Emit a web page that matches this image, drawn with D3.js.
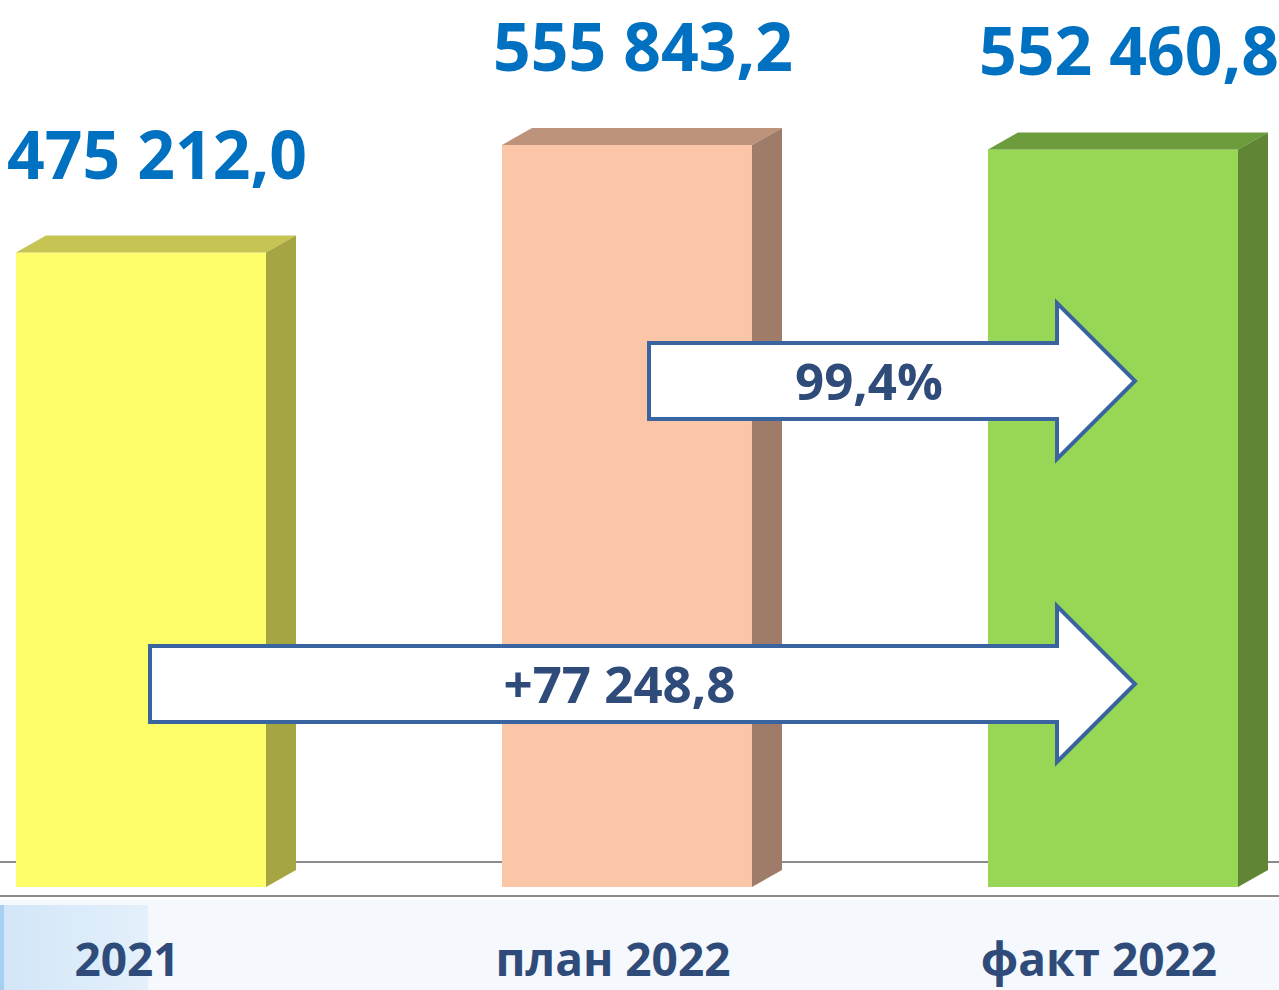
<!DOCTYPE html>
<html>
<head>
<meta charset="utf-8">
<script src="https://cdn.jsdelivr.net/npm/d3@7"></script>
<style>
  html, body { margin: 0; padding: 0; background: #ffffff; }
  svg { display: block; }
  text { font-family: "Open Sans", "Noto Sans", sans-serif; font-weight: 700; }
</style>
</head>
<body>
<div class="bar-chart-container"></div>
<script>
// Data
const categories = ['2021', 'план 2022', 'факт 2022'];
const values = [475212.0, 555843.2, 552460.8];

// front / top / side colours of each 3D bar
const front_colors = ['#FEFE6A', '#FBC5A8', '#98D656'];
const top_colors = ['#C6C452', '#BE937B', '#6D9C3C'];
const side_colors = ['#A5A541', '#9F7C69', '#5F8535'];

// russian number format: "475 212,0"
const ru = d3.formatLocale({decimal: ',', thousands: ' ', grouping: [3], currency: ['', ' ₽']});
const fmtValue = ru.format(',.1f');
const fmtPct = d => ru.format('.1f')(d) + '%';
const fmtDiff = d => '+' + ru.format(',.1f')(d);

const svg_width = 1279;
const svg_height = 990;
const depth_x = 30;   // 3D offset
const depth_y = 17;

const svg = d3.select('.bar-chart-container').append('svg')
    .attr('width', svg_width).attr('height', svg_height);

// background - faint blue band at the bottom
const defs = svg.append('defs');
const grad = defs.append('linearGradient').attr('id', 'bandGrad')
    .attr('x1', 0).attr('x2', 1).attr('y1', 0).attr('y2', 0);
grad.append('stop').attr('offset', '0%').attr('stop-color', '#D2E6F8');
grad.append('stop').attr('offset', '100%').attr('stop-color', '#E4F0FB');

svg.append('rect').attr('x', 0).attr('y', 0).attr('width', svg_width).attr('height', svg_height).style('fill', '#ffffff');
svg.append('rect').attr('x', 0).attr('y', 900).attr('width', svg_width).attr('height', 90).style('fill', '#F5F8FC');
svg.append('rect').attr('x', 0).attr('y', 905).attr('width', 148).attr('height', 85).style('fill', 'url(#bandGrad)');
svg.append('rect').attr('x', 0).attr('y', 905).attr('width', 4).attr('height', 85).style('fill', '#A6D0F2');

// Scales
const xScale = d3.scaleBand().domain(categories)
    .range([16, 1238])
    .paddingInner(0.4856)
    .paddingOuter(0);

const yScale = d3.scaleLinear().domain([0, 600000]).range([887, 86]);

// floor lines (back and front)
const floor_back = yScale(0) - 25;
const floor_front = yScale(0) + 9;
svg.append('line').attr('x1', 0).attr('x2', svg_width)
    .attr('y1', floor_back).attr('y2', floor_back)
    .style('stroke', '#8C8C8C').style('stroke-width', 2);
svg.append('line').attr('x1', 0).attr('x2', svg_width)
    .attr('y1', floor_front).attr('y2', floor_front)
    .style('stroke', '#8C8C8C').style('stroke-width', 2);

const barData = categories.map((c, i) => ({cat: c, value: values[i], i: i}));
const bw = xScale.bandwidth();

const bars = svg.append('g').attr('class', 'bars')
    .selectAll('g').data(barData).join('g');

// front face
bars.append('rect')
    .attr('x', d => xScale(d.cat))
    .attr('y', d => yScale(d.value))
    .attr('width', bw)
    .attr('height', d => yScale(0) - yScale(d.value))
    .style('fill', d => front_colors[d.i]);

// top face
bars.append('path')
    .attr('d', d => {
        const x0 = xScale(d.cat), y0 = yScale(d.value);
        return `M${x0},${y0} L${x0 + depth_x},${y0 - depth_y} L${x0 + bw + depth_x},${y0 - depth_y} L${x0 + bw},${y0} Z`;
    })
    .style('fill', d => top_colors[d.i]);

// side face
bars.append('path')
    .attr('d', d => {
        const x1 = xScale(d.cat) + bw, y0 = yScale(d.value), yb = yScale(0);
        return `M${x1},${y0} L${x1 + depth_x},${y0 - depth_y} L${x1 + depth_x},${yb - depth_y} L${x1},${yb} Z`;
    })
    .style('fill', d => side_colors[d.i]);

// value labels above bars
bars.append('text')
    .attr('x', d => xScale(d.cat) + (bw + depth_x) / 2 + 1)
    .attr('y', d => yScale(d.value) - depth_y - 57)
    .attr('text-anchor', 'middle')
    .style('font-size', '66px')
    .style('fill', '#0070C0')
    .text(d => fmtValue(d.value));

// category labels
svg.append('g').selectAll('text').data(barData).join('text')
    .attr('x', d => xScale(d.cat) + bw / 2 - 14)
    .attr('y', 976)
    .attr('text-anchor', 'middle')
    .style('font-size', '46px')
    .style('fill', '#2E4B7A')
    .text(d => d.cat);

// Arrows (plan -> fact, 2021 -> fact)
const arrows = [
    {from: 'план 2022', to: 'факт 2022', start: 147, cy: 381, text: fmtPct(values[2] / values[1] * 100)},
    {from: '2021', to: 'факт 2022', start: 134, cy: 684, text: fmtDiff(values[2] - values[0])}
];
const shaft_half = 38;
const head_half = 78;

function arrowPath(x0, xNeck, xTip, cy) {
    return `M${x0},${cy - shaft_half} L${xNeck},${cy - shaft_half} L${xNeck},${cy - head_half} ` +
           `L${xTip},${cy} L${xNeck},${cy + head_half} L${xNeck},${cy + shaft_half} L${x0},${cy + shaft_half} Z`;
}

const arrowG = svg.append('g').attr('class', 'arrows')
    .selectAll('g').data(arrows).join('g');

arrowG.append('path')
    .attr('d', d => {
        const x0 = xScale(d.from) + d.start;
        const xNeck = xScale(d.to) + 69;
        const xTip = xScale(d.to) + 147;
        return arrowPath(x0, xNeck, xTip, d.cy);
    })
    .style('fill', '#ffffff')
    .style('stroke', '#3A64A0')
    .style('stroke-width', 4);

// text sits a bit right of the shaft centre
arrowG.append('text')
    .attr('x', d => {
        const x0 = xScale(d.from) + d.start;
        const xNeck = xScale(d.to) + 69;
        return (x0 + xNeck) / 2 + 16;
    })
    .attr('y', d => d.cy + 19)
    .attr('text-anchor', 'middle')
    .style('font-size', '51px')
    .style('fill', '#2E4B7A')
    .text(d => d.text);
</script>
</body>
</html>
